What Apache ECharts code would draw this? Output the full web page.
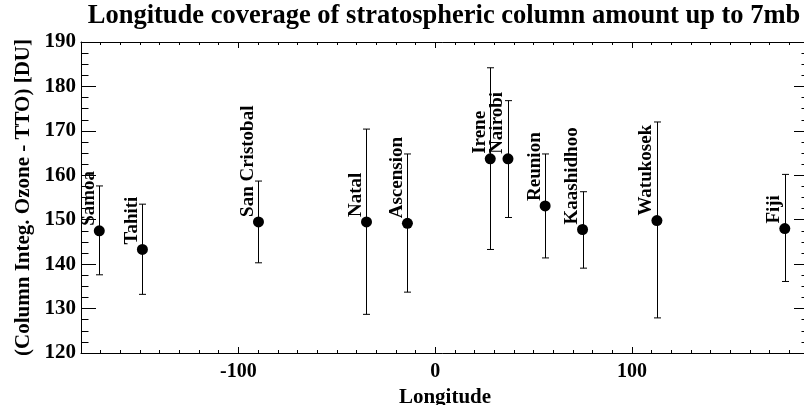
<!DOCTYPE html>
<html>
<head>
<meta charset="utf-8">
<script src="https://cdn.jsdelivr.net/npm/echarts@6/dist/echarts.min.js"></script>
<style>html,body{margin:0;padding:0;background:#fff;}#c{width:804px;height:405px;}</style>
</head>
<body>
<div id="c"></div>
<script>
const stations = ['Samoa','Tahiti','San Cristobal','Natal','Ascension','Irene','Nairobi','Reunion','Kaashidhoo','Watukosek','Fiji'];
const longitude = [-170.7,-148.8,-89.8,-34.9,-14.1,28.0,37.0,55.9,74.9,112.7,177.7];
const meanDU = [147.5,143.3,149.5,149.5,149.2,163.7,163.7,153.1,147.8,149.8,148.0];
const lowDU  = [137.6,133.2,140.3,128.7,133.7,143.3,150.5,141.4,139.1,127.9,136.1];
const highDU = [157.6,153.5,158.7,170.4,164.8,184.2,176.8,164.8,156.3,172.0,160.2];
const xMajorTicks = [-100, 0, 100];
const yTickLabels = [120,130,140,150,160,170,180,190];

const xMin = -180, xMax = 190;
const xMinorTicks = [];
for (let v = xMin + 10; v < xMax; v += 10) if (xMajorTicks.indexOf(v) < 0) xMinorTicks.push(v);

const FONT = '"Liberation Serif", "Times New Roman", serif';
const black = {color: '#000', width: 1};

const chart = echarts.init(document.getElementById('c'), null, {renderer: 'canvas'});

function xAxisDef(pos, ticks, len, withLabel, withLine) {
  return {
    type: 'value', gridIndex: 0, position: pos, min: xMin, max: xMax,
    axisLine: {show: withLine, onZero: false, lineStyle: black},
    axisTick: {show: true, inside: true, length: len, customValues: ticks, lineStyle: black},
    axisLabel: withLabel ? {show: true, customValues: xMajorTicks, color: '#000', fontFamily: FONT, fontWeight: 'bold', fontSize: 20, margin: 9} : {show: false},
    splitLine: {show: false},
    name: withLabel ? 'Longitude' : '',
    nameLocation: 'middle', nameGap: 33,
    nameTextStyle: {color: '#000', fontFamily: FONT, fontWeight: 'bold', fontSize: 21}
  };
}
function yAxisDef(pos, withLabel) {
  return {
    type: 'value', gridIndex: 0, position: pos, min: 120, max: 190, interval: 10,
    axisLine: {show: true, onZero: false, lineStyle: black},
    axisTick: {show: true, inside: true, length: 15, lineStyle: black},
    minorTick: {show: true, splitNumber: 4, length: 7.5, lineStyle: black},
    axisLabel: withLabel ? {show: true, color: '#000', fontFamily: FONT, fontWeight: 'bold', fontSize: 21, margin: 5,
      formatter: v => (yTickLabels.indexOf(v) >= 0 ? String(v) : '')} : {show: false},
    splitLine: {show: false},
    name: withLabel ? '(Column Integ. Ozone - TTO) [DU]' : '',
    nameLocation: 'middle', nameGap: 45,
    nameTextStyle: {color: '#000', fontFamily: FONT, fontWeight: 'bold', fontSize: 21}
  };
}

const barData = longitude.map((x, i) => [x, meanDU[i], lowDU[i], highDU[i]]);
const dotData = longitude.map((x, i) => [x, meanDU[i]]);
const labelData = longitude.map((x, i) => ({value: [x, meanDU[i]], name: stations[i]}));

chart.setOption({
  animation: false,
  backgroundColor: '#fff',
  graphic: [{
    type: 'text', x: 444, y: 3,
    style: {text: 'Longitude coverage of stratospheric column amount up to 7mb', x: 0, y: 0,
      align: 'center', verticalAlign: 'top', font: 'bold 26.5px ' + FONT, fill: '#000'}
  }],
  grid: {left: 81, top: 42, width: 728, height: 311, containLabel: false, outerBoundsMode: 'none'},
  xAxis: [
    xAxisDef('bottom', xMajorTicks, 6, true, true),
    xAxisDef('bottom', xMinorTicks, 3, false, false),
    xAxisDef('top', xMajorTicks, 6, false, true),
    xAxisDef('top', xMinorTicks, 3, false, false)
  ],
  yAxis: [yAxisDef('left', true), yAxisDef('right', false)],
  series: [
    {
      type: 'custom', xAxisIndex: 0, yAxisIndex: 0, data: barData, clip: false,
      renderItem: function (params, api) {
        const x = api.value(0);
        const pLo = api.coord([x, api.value(2)]);
        const pHi = api.coord([x, api.value(3)]);
        const px = Math.round(pLo[0]) + 0.5;
        const st = {stroke: '#000', lineWidth: 1};
        return {type: 'group', children: [
          {type: 'line', shape: {x1: px, y1: pHi[1], x2: px, y2: pLo[1]}, style: st},
          {type: 'line', shape: {x1: px - 3.5, y1: pHi[1], x2: px + 3.5, y2: pHi[1]}, style: st},
          {type: 'line', shape: {x1: px - 3.5, y1: pLo[1], x2: px + 3.5, y2: pLo[1]}, style: st}
        ]};
      }
    },
    {
      type: 'scatter', xAxisIndex: 0, yAxisIndex: 0, data: dotData,
      symbol: 'circle', symbolSize: 11, itemStyle: {color: '#000', opacity: 1}
    },
    {
      type: 'custom', xAxisIndex: 0, yAxisIndex: 0, data: labelData, clip: false,
      renderItem: function (params, api) {
        const p = api.coord([api.value(0), api.value(1)]);
        return {
          type: 'text', x: p[0] - 1, y: p[1] - 5, rotation: Math.PI / 2,
          style: {text: stations[params.dataIndex], x: 0, y: 0, align: 'left', verticalAlign: 'bottom',
            font: 'bold 19px ' + FONT, fill: '#000'}
        };
      }
    }
  ]
});
</script>
</body>
</html>
